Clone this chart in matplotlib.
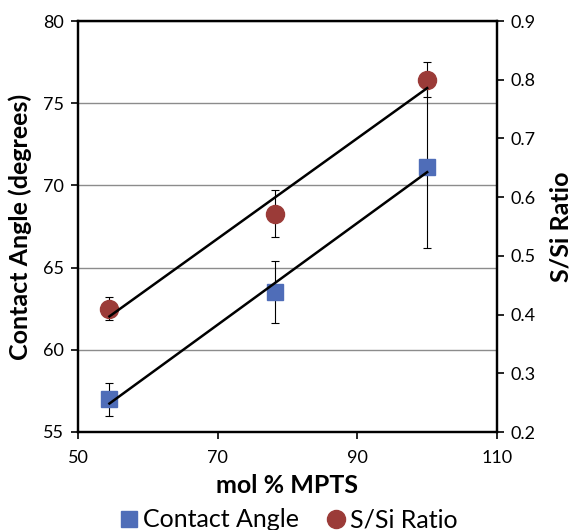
import numpy as np
from matplotlib import pyplot as plt
from matplotlib.lines import Line2D

plt.rcParams['font.family'] = ['Lato', 'DejaVu Sans']

mpts = [54.5, 78.2, 100.0]
contact_angle = [57.0, 63.5, 71.1]
contact_err = [1.0, 1.9, 4.9]
s_si_ratio = [0.41, 0.572, 0.80]
s_si_err = [0.02, 0.04, 0.03]

blue = '#4F6DB8'
red = '#9B3B38'

fig = plt.figure(figsize=(5.74, 5.30), dpi=100)
ax = fig.add_axes([78 / 574, 1 - 432 / 530, (497 - 78) / 574, (432 - 21) / 530])
ax2 = ax.twinx()

ax.errorbar(mpts, contact_angle, yerr=contact_err, fmt='none', ecolor='black',
            elinewidth=0.8, capsize=3, capthick=0.8, zorder=3)
ax.plot(mpts, contact_angle, 's', color=blue, markersize=12, zorder=4)
fit1 = np.polyfit(mpts, contact_angle, 1)
xs = np.array([mpts[0], mpts[-1]])
ax.plot(xs, np.polyval(fit1, xs), color='black', lw=1.8, zorder=5)

ax2.errorbar(mpts, s_si_ratio, yerr=s_si_err, fmt='none', ecolor='black',
             elinewidth=0.8, capsize=3, capthick=0.8, zorder=3)
ax2.plot(mpts, s_si_ratio, 'o', color=red, markersize=13, zorder=4)
fit2 = np.polyfit(mpts, s_si_ratio, 1)
ax2.plot(xs, np.polyval(fit2, xs), color='black', lw=1.8, zorder=5)

ax.set_xlim(50, 110)
ax.set_ylim(55, 80)
ax2.set_ylim(0.2, 0.9)
ax.set_xticks([50, 70, 90, 110])
ax.set_yticks([55, 60, 65, 70, 75, 80])
ax2.set_yticks([0.2, 0.3, 0.4, 0.5, 0.6, 0.7, 0.8, 0.9])
ax2.set_yticklabels(['0.2', '0.3', '0.4', '0.5', '0.6', '0.7', '0.8', '0.9'])

ax.grid(axis='y', color='#8c8c8c', lw=1)
ax.set_axisbelow(True)

for a in (ax, ax2):
    for s in a.spines.values():
        s.set_linewidth(1.6)
    a.tick_params(labelsize=13, width=1.2, length=5, colors='black', pad=5)
ax.tick_params(axis='x', pad=8)

ax.set_xlabel('mol % MPTS', fontsize=18, fontweight='bold', labelpad=6)
ax.set_ylabel('Contact Angle (degrees)', fontsize=18, fontweight='bold', labelpad=8)
ax2.set_ylabel('S/Si Ratio', fontsize=18, fontweight='bold', labelpad=10)

handles = [Line2D([], [], marker='s', color=blue, ls='none', markersize=12),
           Line2D([], [], marker='o', color=red, ls='none', markersize=13)]
fig.legend(handles, ['Contact Angle', 'S/Si Ratio'], loc='lower center',
           bbox_to_anchor=(0.5, -0.045), ncol=2, frameon=False, fontsize=18,
           handletextpad=0.05, columnspacing=1.0, handlelength=1.0)

fig.savefig('out.png', dpi=100)
